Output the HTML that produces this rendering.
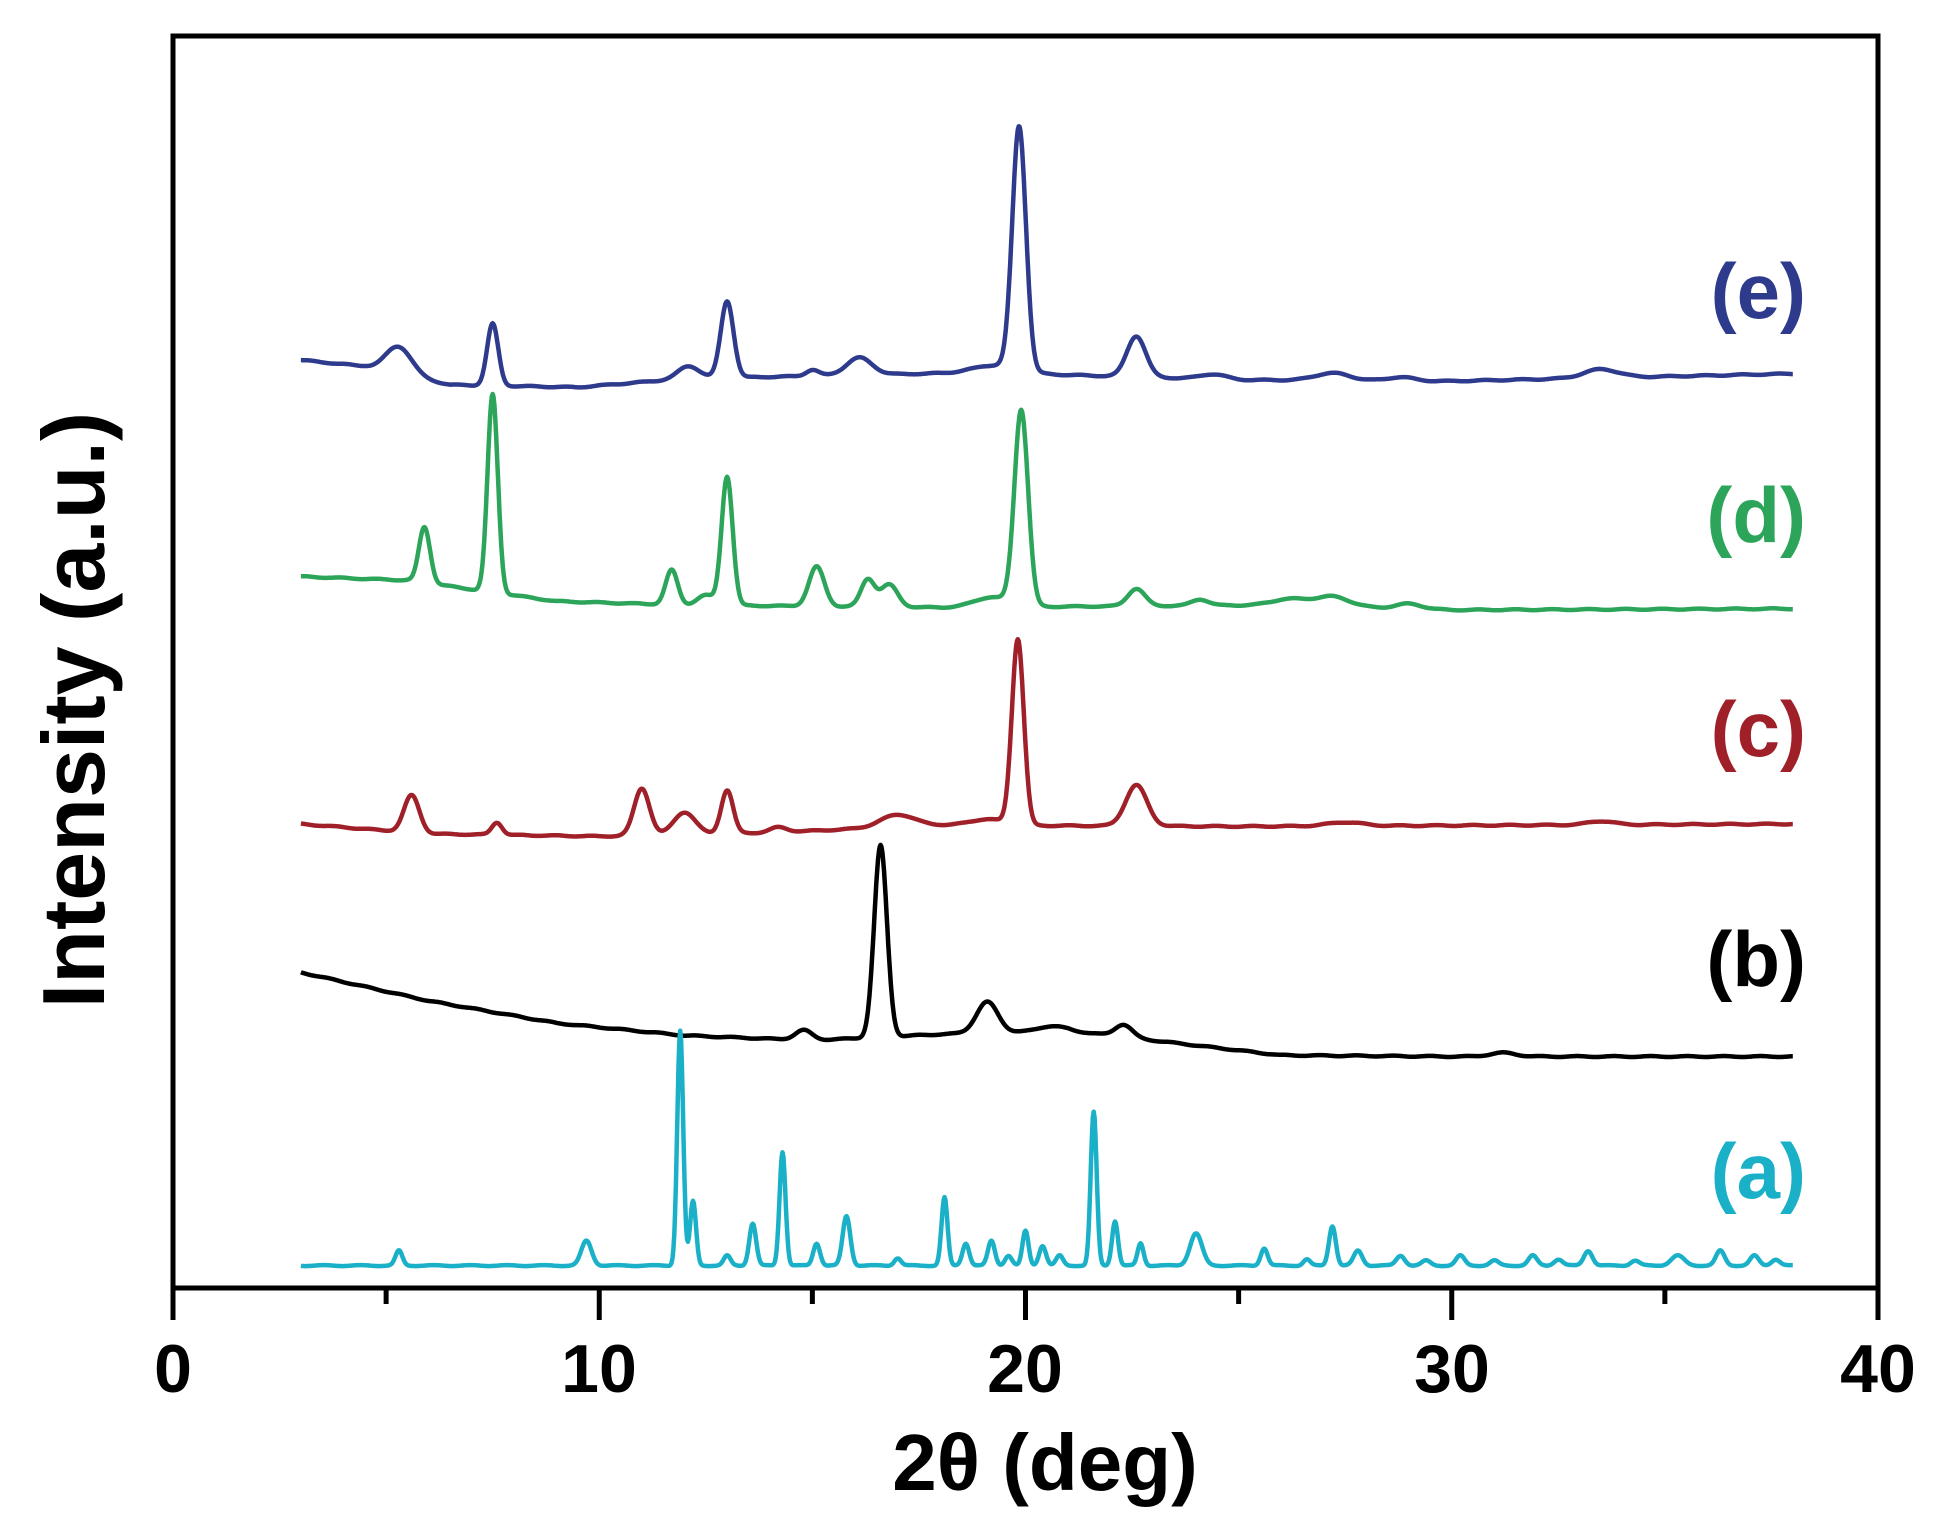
<!DOCTYPE html>
<html><head><meta charset="utf-8"><style>
html,body{margin:0;padding:0;background:#fff;}
svg{display:block;}
text{font-family:"Liberation Sans",Arial,sans-serif;font-weight:bold;}
</style></head><body>
<svg id="s" width="1936" height="1528" viewBox="0 0 1936 1528" xmlns="http://www.w3.org/2000/svg">
<rect width="1936" height="1528" fill="#fff"/>
<g id="plots" fill="none" stroke-width="4.5" stroke-linejoin="round"></g>
<rect x="173" y="36" width="1705" height="1252" fill="none" stroke="#000" stroke-width="5"/>
<g id="ticks" stroke="#000" stroke-width="5"></g>
<g font-size="68" text-anchor="middle" fill="#000">
<text x="173" y="1392">0</text>
<text x="599" y="1392">10</text>
<text x="1025" y="1392">20</text>
<text x="1452" y="1392">30</text>
<text x="1878" y="1392">40</text>
</g>
<text x="1045" y="1490" font-size="80" text-anchor="middle">2θ (deg)</text>
<text transform="translate(104,710) rotate(-90)" font-size="88" text-anchor="middle">Intensity (a.u.)</text>
<g font-size="78" text-anchor="end">
<text x="1806" y="318" fill="#2e3a8c">(e)</text>
<text x="1806" y="542" fill="#2ca55a">(d)</text>
<text x="1806" y="756" fill="#a0202a">(c)</text>
<text x="1806" y="986" fill="#000">(b)</text>
<text x="1806" y="1198" fill="#1ab0c8">(a)</text>
</g>
</svg>
<script>
const X=t=>173+t*42.625, Y=d=>36+(d-28)*1.237;
function lerpBase(pts,t){for(let i=0;i<pts.length-1;i++){if(t<=pts[i+1][0]){const f=(t-pts[i][0])/(pts[i+1][0]-pts[i][0]);return pts[i][1]+f*(pts[i+1][1]-pts[i][1]);}}return pts[pts.length-1][1];}
const series=[
{c:"#2e3a8c",base:[[3,290],[4.5,295],[6.5,310],[9.5,312],[12,305],[19,300],[25,306],[30,307],[38,301]],
 p:[[5.3,22,0.3],[7.5,50,0.13],[12.1,10,0.25],[13.0,62,0.15],[15,5,0.15],[16.1,14,0.3],[19.85,197,0.16],[19.3,6,0.5],[22.6,33,0.22],[24.4,4,0.3],[27.2,6,0.4],[28.8,3,0.3],[33.5,7,0.4]]},
{c:"#2ca55a",base:[[3,465],[5.5,468],[9,485],[12,488],[18,490],[26,488],[30,492],[38,491]],
 p:[[5.9,45,0.13],[7.5,160,0.12],[11.7,28,0.14],[12.5,8,0.2],[13.0,104,0.13],[15.1,32,0.18],[16.3,22,0.16],[16.8,18,0.2],[19.9,158,0.16],[19.2,8,0.4],[22.6,14,0.2],[24.1,5,0.2],[26.2,5,0.4],[27.2,8,0.4],[29,4,0.3]]},
{c:"#a0202a",base:[[3,665],[6,673],[10,675],[14,672],[18,666],[25,667],[38,665]],
 p:[[5.6,30,0.18],[7.6,10,0.12],[11.0,38,0.18],[12.0,18,0.25],[13.0,35,0.14],[14.2,4,0.2],[17.0,10,0.4],[19.82,150,0.14],[19.1,5,0.4],[22.6,33,0.25],[27.5,3,0.4],[33.5,3,0.3]]},
{c:"#000",base:[[3,785],[6,808],[9,826],[12,836],[15,840],[18,835],[21,832],[23,840],[26,852],[30,853],[38,853]],
 p:[[14.8,8,0.2],[16.6,155,0.15],[19.1,25,0.25],[20.6,4,0.3],[22.3,10,0.2],[31.2,3,0.3]]},
{c:"#1ab0c8",base:[[3,1022],[38,1022]],
 p:[[5.3,12,0.08],[9.7,20,0.12],[11.9,190,0.07],[12.2,52,0.07],[13.0,8,0.08],[13.6,34,0.08],[14.3,92,0.07],[15.1,18,0.08],[15.8,40,0.09],[17.0,6,0.08],[18.1,55,0.07],[18.6,18,0.08],[19.2,20,0.08],[19.6,8,0.08],[20.0,28,0.07],[20.4,16,0.08],[20.8,8,0.08],[21.6,124,0.07],[22.1,36,0.07],[22.7,18,0.07],[24.0,26,0.14],[25.6,14,0.08],[26.6,5,0.08],[27.2,32,0.08],[27.8,12,0.1],[28.8,8,0.1],[29.4,4,0.1],[30.2,8,0.1],[31.0,4,0.1],[31.9,8,0.1],[32.5,5,0.1],[33.2,12,0.1],[34.3,4,0.1],[35.3,8,0.15],[36.3,12,0.1],[37.1,8,0.1],[37.6,5,0.1]]}
];
let out="";
series.forEach((s,k)=>{let d="";for(let t=3;t<=38.0001;t+=0.02){let y=lerpBase(s.base,t)+Math.sin(t*7.3+k)*0.4;
 s.p.forEach(p=>{y-=p[1]*Math.exp(-0.5*((t-p[0])/p[2])**2);});
 d+=(d?"L":"M")+X(t).toFixed(1)+","+Y(y).toFixed(1);}
 out+=`<path d="${d}" stroke="${s.c}"/>`;});
document.getElementById("plots").innerHTML=out;
let tk="";for(let v=0;v<=40;v+=5){const x=X(v);tk+=`<line x1="${x}" y1="1288" x2="${x}" y2="${v%10?1304:1320}"/>`;}
document.getElementById("ticks").innerHTML=tk;
</script>
</body></html>
